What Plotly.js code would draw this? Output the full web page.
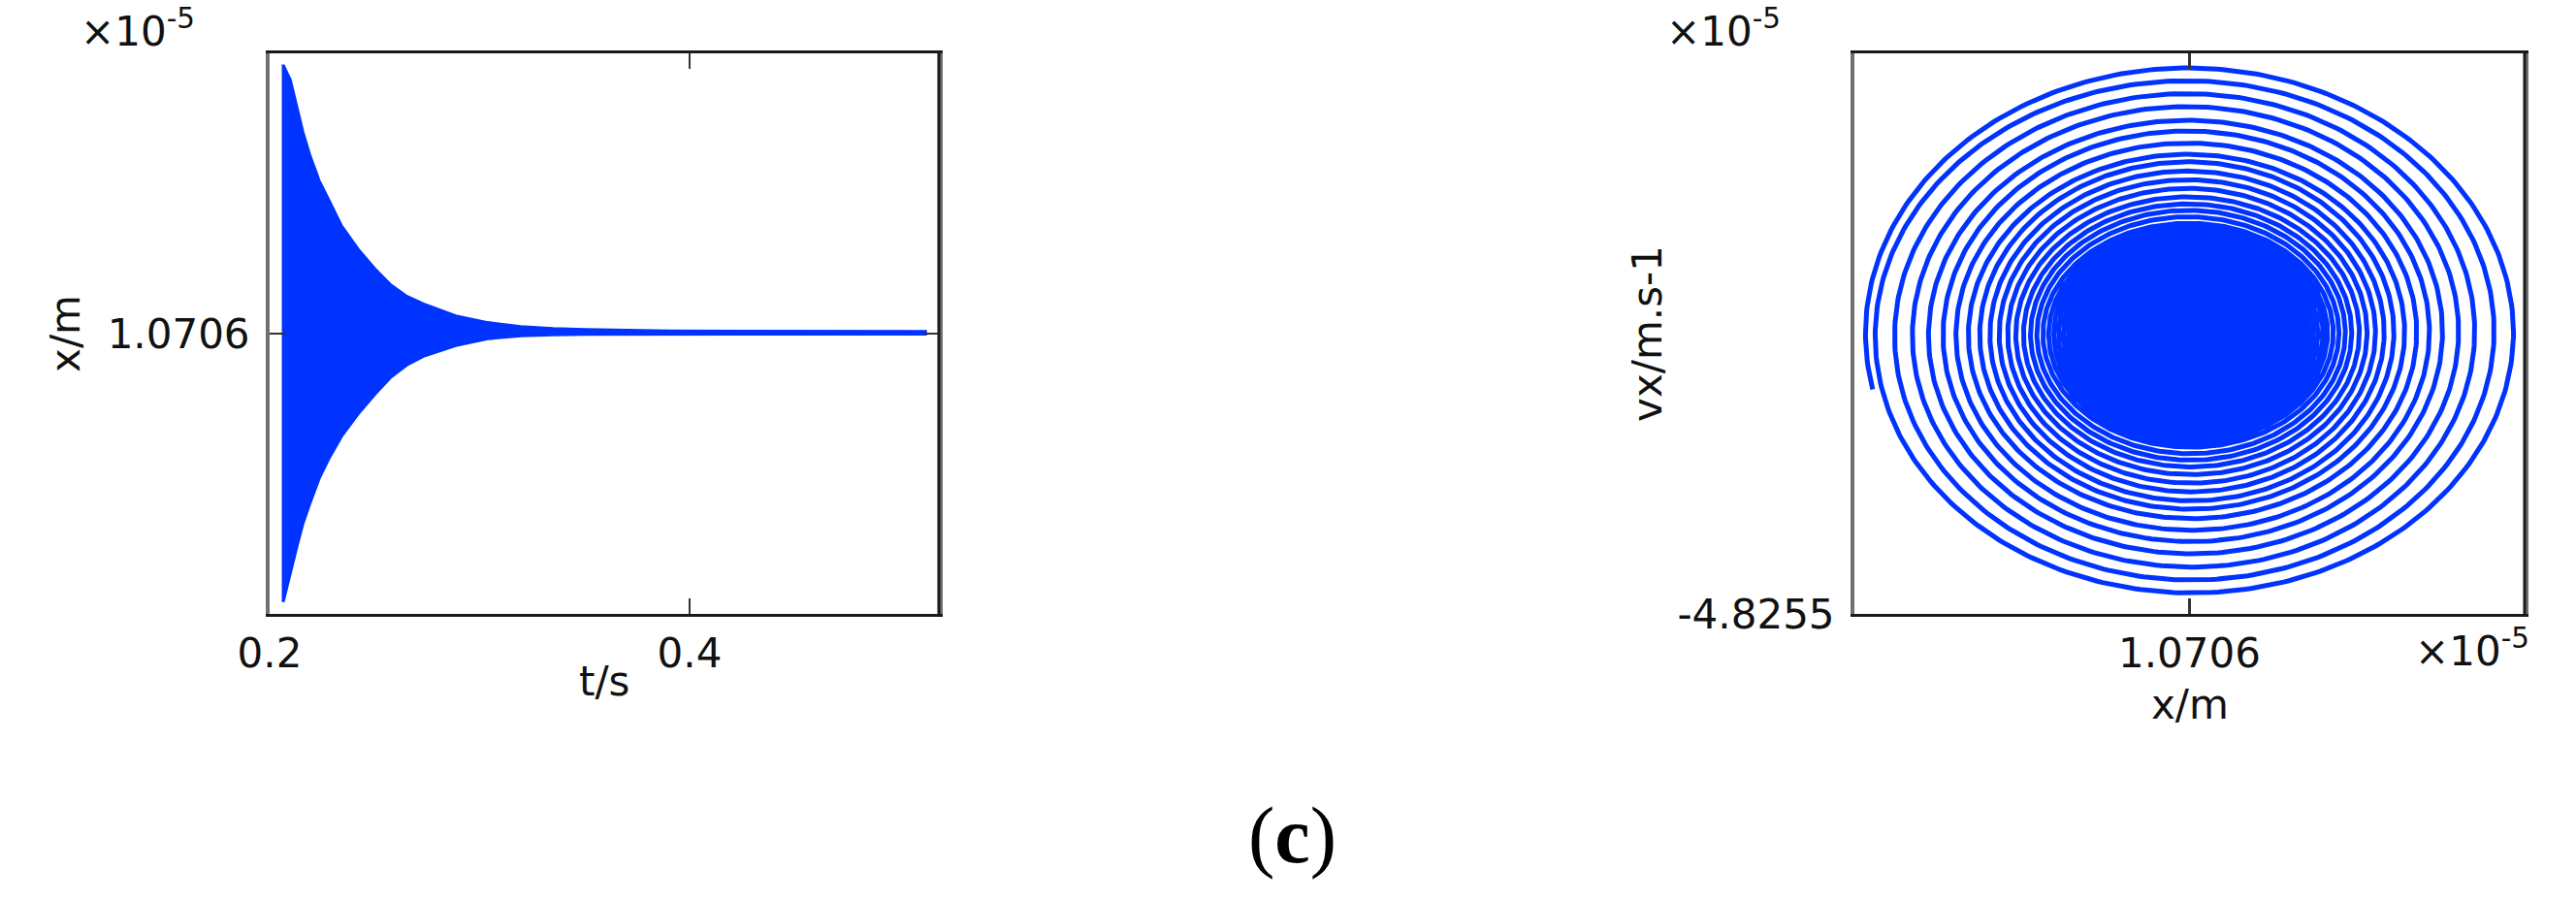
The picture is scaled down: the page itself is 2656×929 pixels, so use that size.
<!DOCTYPE html>
<html>
<head>
<meta charset="utf-8">
<script src="https://cdn.plot.ly/plotly-3.0.1.min.js"></script>
<style>
  html, body { margin: 0; padding: 0; background: #ffffff; }
  #chart { width: 2656px; height: 929px; }
</style>
</head>
<body>
<div id="chart"></div>
<script>
// ---------- Data ----------
// Left panel: envelope of the damped oscillation x(t) (x in units of 1e-5 m)
const tEnv = [0.2058, 0.2069, 0.2102, 0.2134, 0.2162, 0.2194, 0.2240, 0.2286, 0.2346, 0.2425, 0.2504,
              0.2577, 0.2656, 0.2734, 0.2887, 0.3039, 0.3196, 0.3349, 0.3501, 0.3903, 0.4500, 0.5127];
const xUpper = [1.071558, 1.071558, 1.071506, 1.071402, 1.071319, 1.071239, 1.071145, 1.071076, 1.070985,
                1.070902, 1.070833, 1.070777, 1.070735, 1.070708, 1.070666, 1.070642, 1.070628, 1.070621,
                1.070617, 1.070612, 1.070610, 1.070610];
const xLower = [1.069645, 1.069645, 1.069749, 1.069842, 1.069922, 1.069991, 1.070084, 1.070154, 1.070233,
                1.070313, 1.070382, 1.070441, 1.070486, 1.070517, 1.070555, 1.070579, 1.070590, 1.070593,
                1.070595, 1.070596, 1.070596, 1.070596];

// Right panel: phase portrait (x in 1e-5 m, vx in 1e-5 m/s)
const eqX = 1.0706;            // equilibrium position (spiral centre)
const eqV = 0;
const startX = 1.069658;       // start point of the trajectory
const startV = -0.955;
// amplitude of each turn where it crosses vx = 0 (right side), x in 1e-5 m
const ringAmpX = [0.000967, 0.000909, 0.000851, 0.000803, 0.000755, 0.000716, 0.000678, 0.000642,
                  0.000610, 0.000581, 0.000555, 0.000530, 0.000507, 0.000484, 0.000465, 0.000446,
                  0.000429, 0.000412, 0.000398, 0.000383, 0.000369, 0.000354];
// amplitude of each turn where it crosses x = eq (top), vx in 1e-5 m/s
const ringAmpV = [4.575, 4.353, 4.131, 3.909, 3.672, 3.489, 3.281, 3.088, 2.958, 2.799, 2.649,
                  2.500, 2.355, 2.234, 2.123, 2.012, 1.901, 1.860, 1.830, 1.800, 1.770, 1.740];
// densely wound core (turns no longer resolved)
const coreAmpX = 0.000362;
const coreAmpV = 1.83;

// Axis ticks / labels
const leftXTicks = [0.2, 0.4];
const leftXTickText = ['0.2', '0.4'];
const leftYTicks = [1.0706];
const leftYTickText = ['1.0706'];
const rightXTicks = [1.0706];
const rightXTickText = ['1.0706'];
const rightYTicks = [-4.8255];
const rightYTickText = ['-4.8255'];

// ---------- Build traces ----------
const BLUE = '#0033ff';

const envelope = {
  type: 'scatter', mode: 'lines',
  x: tEnv.concat(tEnv.slice().reverse()),
  y: xUpper.concat(xLower.slice().reverse()),
  fill: 'toself', fillcolor: BLUE,
  line: { color: BLUE, width: 1.5 },
  xaxis: 'x', yaxis: 'y', hoverinfo: 'skip', showlegend: false
};

function interp(knots, vals, s) {
  if (s <= knots[0]) return vals[0];
  const n = knots.length;
  if (s >= knots[n - 1]) return vals[n - 1];
  for (let i = 0; i < n - 1; i++) {
    if (s >= knots[i] && s <= knots[i + 1]) {
      const f = (s - knots[i]) / (knots[i + 1] - knots[i]);
      return vals[i] + f * (vals[i + 1] - vals[i]);
    }
  }
  return vals[n - 1];
}
const knotsX = ringAmpX.map((_, k) => k + 0.5);
const knotsV = ringAmpV.map((_, k) => k + 0.25);
let th0 = Math.atan2((startV - eqV) / ringAmpV[0], (startX - eqX) / ringAmpX[0]);
if (th0 < 0) th0 += 2 * Math.PI;
const sStart = (Math.PI - th0) / (2 * Math.PI);
const sEnd = knotsX[knotsX.length - 1];
const spX = [], spY = [];
const steps = Math.ceil((sEnd - sStart) * 360);
for (let i = 0; i <= steps; i++) {
  const s = sStart + (sEnd - sStart) * i / steps;
  const th = Math.PI - 2 * Math.PI * s;
  spX.push(eqX + interp(knotsX, ringAmpX, s) * Math.cos(th));
  spY.push(eqV + interp(knotsV, ringAmpV, s) * Math.sin(th));
}
const spiral = {
  type: 'scatter', mode: 'lines', x: spX, y: spY,
  line: { color: BLUE, width: 5 },
  xaxis: 'x2', yaxis: 'y2', hoverinfo: 'skip', showlegend: false
};
const cX = [], cY = [];
for (let i = 0; i <= 180; i++) {
  const a = 2 * Math.PI * i / 180;
  cX.push(eqX + coreAmpX * Math.cos(a));
  cY.push(eqV + coreAmpV * Math.sin(a));
}
const core = {
  type: 'scatter', mode: 'lines', x: cX, y: cY,
  fill: 'toself', fillcolor: BLUE, line: { color: BLUE, width: 1 },
  xaxis: 'x2', yaxis: 'y2', hoverinfo: 'skip', showlegend: false
};

// ---------- Layout ----------
const W = 2656, H = 929;
const FONT = 'DejaVu Sans';
const tickFont = { family: FONT, size: 42, color: '#111111' };
const titleFont = { family: FONT, size: 42, color: '#111111' };
const yDom = [1 - 633 / H, 1 - 55 / H];

function axisBase(extra) {
  return Object.assign({
    showgrid: false, zeroline: false, showline: true,
    ticks: 'inside', ticklen: 16, tickwidth: 2.5, tickcolor: '#333333',
    mirror: 'ticks', tickfont: tickFont, ticklabelstandoff: 2,
    fixedrange: true
  }, extra);
}

const layout = {
  width: W, height: H,
  margin: { l: 0, r: 0, t: 0, b: 0, pad: 0 },
  paper_bgcolor: '#ffffff', plot_bgcolor: '#ffffff',
  showlegend: false,
  xaxis: axisBase({
    domain: [278 / W, 968 / W], range: [0.2, 0.5187], anchor: 'y',
    tickmode: 'array', tickvals: leftXTicks, ticktext: leftXTickText,
    linecolor: '#1a1a1a', linewidth: 3
  }),
  yaxis: axisBase({
    domain: yDom, range: [1.0696, 1.0716], anchor: 'x',
    tickmode: 'array', tickvals: leftYTicks, ticktext: leftYTickText,
    linecolor: '#707070', linewidth: 4, ticklabelstandoff: 8,
    title: { text: 'x/m', font: titleFont, standoff: 16 }
  }),
  xaxis2: axisBase({
    domain: [1912 / W, 2603 / W], range: [1.0696, 1.0716], anchor: 'y2',
    tickmode: 'array', tickvals: rightXTicks, ticktext: rightXTickText,
    linecolor: '#1a1a1a', linewidth: 3
  }),
  yaxis2: axisBase({
    domain: yDom, range: [-4.8255, 4.8255], anchor: 'x2',
    tickmode: 'array', tickvals: rightYTicks, ticktext: rightYTickText,
    linecolor: '#707070', linewidth: 4, ticklabelstandoff: 8,
    title: { text: 'vx/m.s-1', font: titleFont, standoff: 4 }
  }),
  shapes: [
    { type: 'line', xref: 'x domain', yref: 'y domain', x0: 1, x1: 1, y0: 0, y1: 1,
      line: { color: '#1a1a1a', width: 3 } },
    { type: 'line', xref: 'x2 domain', yref: 'y2 domain', x0: 1, x1: 1, y0: 0, y1: 1,
      line: { color: '#1a1a1a', width: 3 } }
  ],
  annotations: [
    // x-axis titles
    { text: 't/s', xref: 'paper', yref: 'paper', x: 623 / W, y: 1 - 702 / H,
      xanchor: 'center', yanchor: 'middle', showarrow: false, font: titleFont },
    { text: 'x/m', xref: 'paper', yref: 'paper', x: 2258 / W, y: 1 - 726 / H,
      xanchor: 'center', yanchor: 'middle', showarrow: false, font: titleFont },
    // axis multipliers
    { text: '×10<sup>-5</sup>', xref: 'paper', yref: 'paper', x: 203 / W, y: 1 - 30 / H,
      xanchor: 'right', yanchor: 'middle', showarrow: false, font: tickFont },
    { text: '×10<sup>-5</sup>', xref: 'paper', yref: 'paper', x: 1838 / W, y: 1 - 30 / H,
      xanchor: 'right', yanchor: 'middle', showarrow: false, font: tickFont },
    { text: '×10<sup>-5</sup>', xref: 'paper', yref: 'paper', x: 2610 / W, y: 1 - 668 / H,
      xanchor: 'right', yanchor: 'middle', showarrow: false, font: tickFont },
    // panel label
    { text: '(<b>c</b>)', xref: 'paper', yref: 'paper', x: 1332 / W, y: 1 - 861 / H,
      xanchor: 'center', yanchor: 'middle', showarrow: false,
      font: { family: 'Liberation Serif', size: 82, color: '#000000' } }
  ]
};

Plotly.newPlot('chart', [envelope, core, spiral], layout, { staticPlot: true, displayModeBar: false });
</script>
</body>
</html>
